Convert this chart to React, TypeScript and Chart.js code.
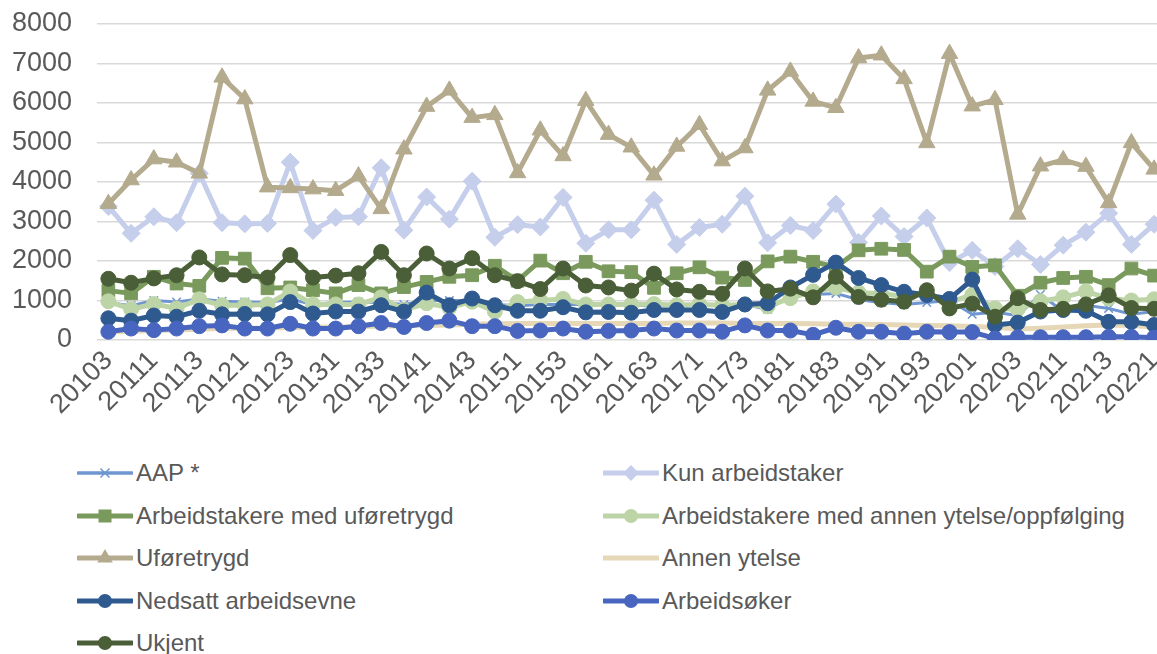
import React, { useEffect, useRef } from 'react';
import { Chart, registerables } from 'chart.js';

Chart.register(...registerables);

const quarters = [
  '20103', '20104',
  '20111', '20112', '20113', '20114',
  '20121', '20122', '20123', '20124',
  '20131', '20132', '20133', '20134',
  '20141', '20142', '20143', '20144',
  '20151', '20152', '20153', '20154',
  '20161', '20162', '20163', '20164',
  '20171', '20172', '20173', '20174',
  '20181', '20182', '20183', '20184',
  '20191', '20192', '20193', '20194',
  '20201', '20202', '20203', '20204',
  '20211', '20212', '20213', '20214',
  '20221',
];

const yTicks = [0, 1000, 2000, 3000, 4000, 5000, 6000, 7000, 8000];

const aap = [950, 870, 1000, 960, 1040, 980, 960, 950, 1040, 900, 950, 960, 950, 900, 1000, 1000, 1000, 900, 870, 900, 900, 900, 900, 900, 850, 900, 870, 900, 900, 780, 1100, 1150, 1180, 1020, 950, 900, 950, 1000, 650, 700, 620, 1150, 720, 880, 800, 650, 720];
const kunArbeidstaker = [3380, 2700, 3120, 2970, 4220, 2970, 2940, 2950, 4500, 2770, 3100, 3120, 4360, 2780, 3620, 3060, 4020, 2600, 2920, 2860, 3610, 2450, 2790, 2790, 3540, 2420, 2850, 2930, 3640, 2460, 2900, 2770, 3440, 2470, 3140, 2620, 3090, 1960, 2270, 1860, 2310, 1910, 2400, 2730, 3210, 2420, 2930];
const arbUforetrygd = [1250, 1180, 1600, 1430, 1370, 2080, 2060, 1310, 1330, 1260, 1180, 1390, 1180, 1340, 1470, 1600, 1640, 1880, 1500, 2010, 1690, 1980, 1740, 1720, 1320, 1690, 1840, 1580, 1520, 1990, 2110, 1980, 1850, 2270, 2310, 2280, 1730, 2110, 1850, 1890, 1120, 1450, 1570, 1600, 1390, 1810, 1630];
const arbAnnenYtelse = [980, 780, 910, 800, 1030, 880, 880, 900, 1230, 900, 900, 900, 1080, 760, 930, 820, 970, 720, 960, 1000, 1040, 900, 900, 900, 910, 880, 900, 880, 900, 850, 1060, 1230, 1330, 1200, 1170, 1110, 1170, 960, 1140, 800, 780, 980, 1080, 1230, 1050, 1000, 1030];
const uforetrygd = [3450, 4050, 4580, 4500, 4220, 6650, 6100, 3870, 3850, 3820, 3780, 4150, 3320, 4830, 5910, 6320, 5630, 5700, 4230, 5310, 4660, 6060, 5200, 4880, 4170, 4900, 5450, 4530, 4860, 6320, 6800, 6040, 5880, 7140, 7210, 6610, 4990, 7250, 5920, 6080, 3180, 4400, 4560, 4390, 3470, 4990, 4320];
const annenYtelse = [200, 220, 240, 250, 270, 290, 300, 300, 320, 320, 330, 340, 350, 360, 370, 380, 400, 410, 420, 420, 420, 420, 420, 420, 420, 430, 430, 430, 420, 420, 420, 410, 400, 400, 390, 380, 370, 360, 340, 320, 280, 300, 330, 360, 380, 370, 330];
const nedsattArbeidsevne = [550, 490, 620, 590, 740, 650, 660, 650, 960, 670, 720, 720, 880, 720, 1200, 880, 1050, 880, 740, 740, 830, 700, 710, 690, 760, 760, 760, 710, 900, 930, 1330, 1650, 1960, 1570, 1390, 1220, 1140, 1040, 1530, 380, 440, 720, 760, 740, 460, 460, 380];
const arbeidsoker = [210, 290, 250, 290, 350, 370, 290, 290, 410, 290, 290, 350, 430, 330, 430, 490, 350, 350, 230, 240, 290, 210, 230, 240, 290, 240, 240, 210, 370, 240, 240, 130, 310, 210, 210, 160, 210, 200, 200, 40, 70, 70, 70, 70, 80, 80, 60];
const ukjent = [1550, 1450, 1560, 1640, 2090, 1660, 1640, 1580, 2150, 1580, 1630, 1690, 2230, 1640, 2190, 1810, 2070, 1640, 1490, 1290, 1810, 1380, 1330, 1250, 1680, 1280, 1220, 1170, 1810, 1230, 1300, 1080, 1600, 1090, 1020, 970, 1260, 800, 920, 590, 1060, 760, 790, 900, 1130, 810, 790];

type Series = { label: string; data: number[]; color: string; marker: string; radius: number; width: number };

const series: Series[] = [
  { label: 'AAP *', data: aap, color: '#6F96D1', marker: 'crossRot', radius: 6, width: 3 },
  { label: 'Kun arbeidstaker', data: kunArbeidstaker, color: '#C5CEEB', marker: 'rectRot', radius: 9, width: 5 },
  { label: 'Arbeidstakere med uføretrygd', data: arbUforetrygd, color: '#7A9A5D', marker: 'rect', radius: 9, width: 5 },
  { label: 'Arbeidstakere med annen ytelse/oppfølging', data: arbAnnenYtelse, color: '#BDD4A7', marker: 'circle', radius: 7.5, width: 5 },
  { label: 'Uføretrygd', data: uforetrygd, color: '#B4AA8E', marker: 'triangle', radius: 9.5, width: 5 },
  { label: 'Annen ytelse', data: annenYtelse, color: '#E6D8B7', marker: 'none', radius: 0, width: 5 },
  { label: 'Nedsatt arbeidsevne', data: nedsattArbeidsevne, color: '#2F5A8F', marker: 'circle', radius: 7.5, width: 5 },
  { label: 'Arbeidsøker', data: arbeidsoker, color: '#4866BF', marker: 'circle', radius: 7.5, width: 5 },
  { label: 'Ukjent', data: ukjent, color: '#4A5E37', marker: 'circle', radius: 7.5, width: 5 },
];

const FONT = '"Liberation Sans", Arial, sans-serif';
const TEXT = '#595959';
const CANVAS_W = 1176;
const CANVAS_H = 440;

function LegendMarker({ s }: { s: Series }) {
  const cx = 28;
  const cy = 10;
  let m: any = null;
  if (s.marker === 'crossRot') {
    m = (
      <g stroke={s.color} strokeWidth={1.5}>
        <line x1={cx - 4.5} y1={cy - 4.5} x2={cx + 4.5} y2={cy + 4.5} />
        <line x1={cx - 4.5} y1={cy + 4.5} x2={cx + 4.5} y2={cy - 4.5} />
      </g>
    );
  } else if (s.marker === 'rectRot') {
    m = <polygon points={`${cx - 8},${cy} ${cx},${cy - 8} ${cx + 8},${cy} ${cx},${cy + 8}`} fill={s.color} />;
  } else if (s.marker === 'rect') {
    m = <rect x={cx - 6.5} y={cy - 6.5} width={13} height={13} fill={s.color} />;
  } else if (s.marker === 'circle') {
    m = <circle cx={cx} cy={cy} r={7} fill={s.color} />;
  } else if (s.marker === 'triangle') {
    m = <polygon points={`${cx},${cy - 9} ${cx + 7.8},${cy + 4.5} ${cx - 7.8},${cy + 4.5}`} fill={s.color} />;
  }
  return (
    <svg width={56} height={20} style={{ display: 'block' }}>
      <line x1={1} y1={cy} x2={55} y2={cy} stroke={s.color} strokeWidth={s.marker === 'crossRot' ? 3.5 : 5} strokeLinecap="round" />
      {m}
    </svg>
  );
}

export default function App() {
  const canvasRef = useRef<HTMLCanvasElement | null>(null);

  useEffect(() => {
    const canvas = canvasRef.current;
    if (!canvas) return;
    const chart = new Chart(canvas, {
      type: 'line',
      data: {
        labels: quarters,
        datasets: series.map((s, i) => ({
          label: s.label,
          data: s.data,
          borderColor: s.color,
          backgroundColor: s.color,
          borderWidth: s.width,
          pointStyle: s.marker === 'none' ? false : (s.marker as any),
          pointRadius: s.radius,
          pointHoverRadius: s.radius,
          pointBackgroundColor: s.color,
          pointBorderColor: s.color,
          pointBorderWidth: s.marker === 'crossRot' ? 1.5 : 1,
          tension: 0,
          borderJoinStyle: 'round' as const,
          borderCapStyle: 'round' as const,
          fill: false,
          order: series.length - i,
        })),
      },
      options: {
        responsive: false,
        animation: false,
        devicePixelRatio: 1,
        layout: { padding: { top: 24, left: 0, right: 0, bottom: 0 } },
        plugins: {
          legend: { display: false },
          tooltip: { enabled: false },
        },
        scales: {
          x: {
            type: 'category',
            offset: true,
            grid: { display: false, drawTicks: false },
            border: { display: false },
            ticks: {
              autoSkip: false,
              minRotation: 45,
              maxRotation: 45,
              padding: 5,
              color: TEXT,
              font: { family: FONT, size: 27 },
              callback: (_v: any, i: number) => (i % 2 === 0 ? quarters[i] : null),
            },
            afterFit: (scale: any) => {
              scale.height = CANVAS_H - 340;
              scale.paddingLeft = 0;
              scale.paddingRight = 0;
            },
          },
          y: {
            min: 0,
            max: 8000,
            afterBuildTicks: (scale: any) => {
              scale.ticks = yTicks.map((v) => ({ value: v }));
            },
            grid: { color: '#D9D9D9', lineWidth: 1.5, drawTicks: false },
            border: { display: false },
            ticks: {
              padding: 25,
              color: TEXT,
              font: { family: FONT, size: 27 },
              callback: (v: any) => String(v),
            },
            afterFit: (scale: any) => {
              scale.width = 97;
              scale.paddingTop = 0;
              scale.paddingBottom = 0;
            },
          },
        },
      },
    });
    return () => chart.destroy();
  }, []);

  const rowY = [473, 516, 558, 601, 643];
  const cols = [
    { swatchX: 77, textX: 136 },
    { swatchX: 603, textX: 662 },
  ];

  return (
    <div style={{ position: 'absolute', left: 0, top: 0, width: 1157, height: 654, overflow: 'hidden', background: '#fff' }}>
      <canvas ref={canvasRef} width={CANVAS_W} height={CANVAS_H} style={{ position: 'absolute', left: 0, top: 0, width: CANVAS_W, height: CANVAS_H }} />
      {series.map((s, i) => {
        const row = Math.floor(i / 2);
        const col = cols[i % 2];
        const cy = rowY[row];
        return (
          <React.Fragment key={s.label}>
            <div style={{ position: 'absolute', left: col.swatchX, top: cy - 10 }}>
              <LegendMarker s={s} />
            </div>
            <div
              style={{
                position: 'absolute',
                left: col.textX,
                top: cy - 14,
                height: 28,
                lineHeight: '28px',
                fontFamily: FONT,
                fontSize: 24,
                color: TEXT,
                whiteSpace: 'nowrap',
              }}
            >
              {s.label}
            </div>
          </React.Fragment>
        );
      })}
    </div>
  );
}
